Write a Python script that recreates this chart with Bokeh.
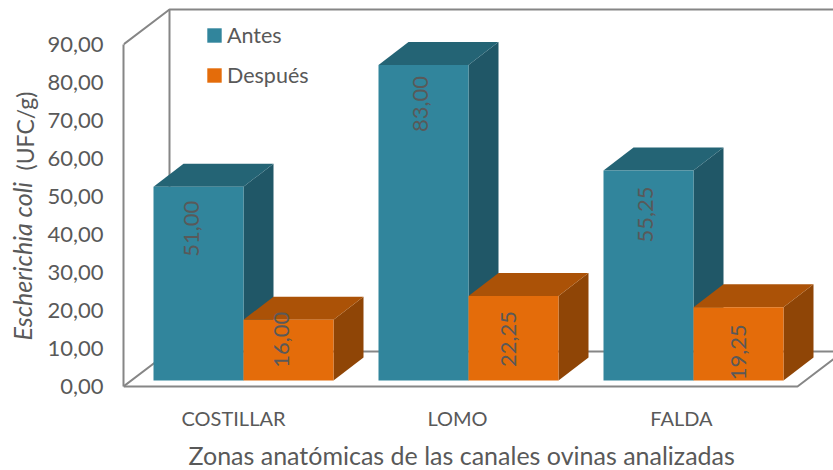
from bokeh.plotting import figure
from bokeh.embed import file_html
from bokeh.resources import INLINE
from bokeh.models import Range1d, FixedTicker, Legend, LegendItem, Title
from bokeh.core.properties import value
import math

categories = ["COSTILLAR", "LOMO", "FALDA"]
antes = [51.00, 83.00, 55.25]
despues = [16.00, 22.25, 19.25]
y_ticks = [0, 10, 20, 30, 40, 50, 60, 70, 80, 90]
y_tick_labels = ["0,00", "10,00", "20,00", "30,00", "40,00", "50,00", "60,00", "70,00", "80,00", "90,00"]
x_title = "Zonas anatómicas de las canales ovinas analizadas"
y_title_italic = "Escherichia coli"
y_title_plain = "(UFC/g)"

# layout (pixels of the reference)
PX_X = 225.0   # pixels per category
PX_Y = 3.8     # pixels per unit
W, H = 833, 470
FL, FB, FR, FT = 123, 395, 833, 0
ZERO = 386     # pixel row of axis value 0
C0 = 243       # pixel column of the first category's centre
FONT = "Lato"
GREY = "#595959"
WALL = "#868686"

dx = lambda px: px / PX_X
dy = lambda px: px / PX_Y
x_start = (FL - C0) / PX_X
x_end = (FR - C0) / PX_X
y_start = (ZERO - FB) / PX_Y
y_end = (ZERO - FT) / PX_Y

p = figure(width=W, height=H, frame_width=FR - FL, frame_height=FB - FT,
           x_range=Range1d(x_start, x_end), y_range=Range1d(y_start, y_end),
           output_backend="svg", toolbar_location=None, min_border=0,
           min_border_left=FL, min_border_bottom=H - FB, min_border_top=0, min_border_right=0,
           outline_line_color=None, margin=(0, 0, 0, 0))
p.grid.visible = False
p.background_fill_color = None
p.border_fill_color = None

# axes
ya = p.yaxis[0]
ya.ticker = FixedTicker(ticks=y_ticks)
ya.major_label_overrides = {t: l for t, l in zip(y_ticks, y_tick_labels)}
ya.major_tick_line_color = None
ya.minor_tick_line_color = None
ya.axis_line_color = WALL
ya.axis_line_width = 2
ya.bounds = (0, y_ticks[-1])
ya.major_label_standoff = 14
ya.major_label_text_font = FONT
ya.major_label_text_font_size = "22px"
ya.major_label_text_color = GREY

xa = p.xaxis[0]
label_px = [233, 457, 681]
xt = [(px - C0) / PX_X for px in label_px]
xa.ticker = FixedTicker(ticks=xt)
xa.major_label_overrides = {t: c for t, c in zip(xt, categories)}
xa.major_tick_line_color = None
xa.minor_tick_line_color = None
xa.axis_line_color = None
xa.major_label_standoff = 4
xa.major_label_text_font = FONT
xa.major_label_text_font_size = "20px"
xa.major_label_text_color = GREY

p.add_layout(Title(text=x_title, align="left", offset=188 - FL, standoff=11, text_font=FONT, text_font_size="25px",
                   text_font_style="normal", text_color=GREY), "below")

# y title: italic part and plain part, sharing one column
p.add_layout(Title(text=y_title_italic, align="left", offset=55, standoff=11, vertical_align="top",
                   text_font=FONT, text_font_size="25px", text_font_style="italic", text_color=GREY), "left")
p.add_layout(Title(text=y_title_plain, align="left", offset=225, standoff=-74, vertical_align="bottom",
                   text_font=FONT, text_font_size="23px", text_font_style="normal", text_color=GREY), "left")

# walls
WX, WY = dx(46), dy(35)
top = y_ticks[-1]
left = x_start
floor_right = (797 - C0) / PX_X
p.line([left, left + WX, x_end], [top, top + WY, top + WY], line_color=WALL, line_width=2)
p.line([left + WX, left + WX], [top + WY, WY], line_color=WALL, line_width=2)
p.line([left, left + WX, x_end], [0, WY, WY], line_color=WALL, line_width=2)
p.line([left, floor_right, floor_right + WX], [0, 0, WY], line_color=WALL, line_width=2)

# bars
BW = 90 / PX_X
LIFT = dy(6)
DX, DY = dx(30), dy(23)


def draw(vals, lefts, front, top_c, side_c):
    bottoms = [LIFT] * len(vals)
    tops = [v + LIFT for v in vals]
    rights = [l + BW for l in lefts]
    p.patches([[r, r + DX, r + DX, r] for r in rights],
              [[b, b + DY, t + DY, t] for b, t in zip(bottoms, tops)],
              fill_color=side_c, line_color=None)
    p.patches([[l, l + DX, r + DX, r] for l, r in zip(lefts, rights)],
              [[t, t + DY, t + DY, t] for t in tops],
              fill_color=top_c, line_color=None)
    return p.quad(left=lefts, right=rights, bottom=bottoms, top=tops,
                  fill_color=front, line_color=None)


idx = list(range(len(categories)))
r1 = draw(antes, [i - BW for i in idx], "#31859C", "#246475", "#205767")
r2 = draw(despues, list(idx), "#E46C0A", "#AB5207", "#8F4506")

# data labels
lab_dx_a = [-7, -3, -3]
lab_dx_d = [-7, -5, 0]
lab_dy_a = [42, 39, 44]
lab_dy_d = [20, 43, 45]
lx, ly, lt = [], [], []
for i in idx:
    lx.append(i - BW / 2 + dx(lab_dx_a[i]))
    ly.append(antes[i] + LIFT - dy(lab_dy_a[i]))
    lt.append(f"{antes[i]:.2f}".replace(".", ","))
    lx.append(i + BW / 2 + dx(lab_dx_d[i]))
    ly.append(despues[i] + LIFT - dy(lab_dy_d[i]))
    lt.append(f"{despues[i]:.2f}".replace(".", ","))
p.text(x=lx, y=ly, text=lt, angle=math.pi / 2, text_align="center", text_baseline="middle",
       text_color=GREY, text_font=value(FONT), text_font_size="22px")

# legend
leg = Legend(items=[LegendItem(label="Antes", renderers=[r1]), LegendItem(label="Después", renderers=[r2])],
             location=(205 - FL, FB - 88), orientation="vertical", background_fill_alpha=0, border_line_alpha=0,
             padding=0, margin=0, spacing=14, glyph_width=18, glyph_height=18, label_standoff=4,
             label_text_font=FONT, label_text_font_size="21.5px", label_text_color=GREY)
p.add_layout(leg)

open("out.html", "w").write(file_html(p, INLINE))
